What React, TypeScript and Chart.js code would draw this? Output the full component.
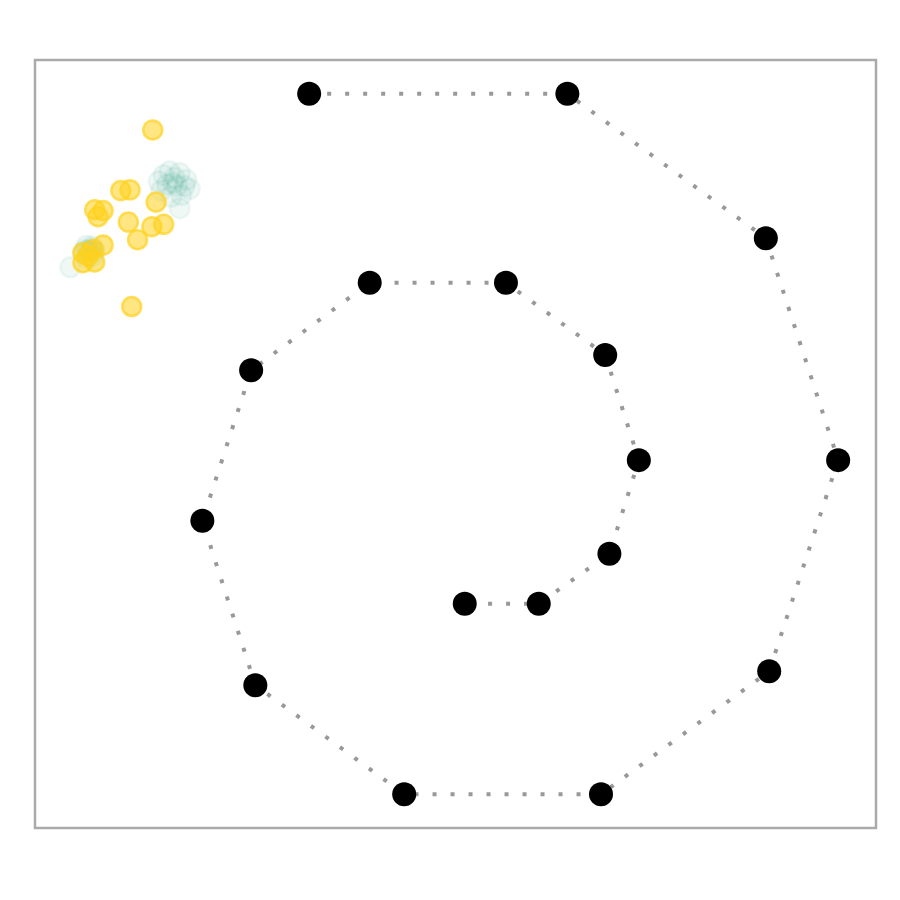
import React, { useEffect, useRef } from "react";
import { Chart, registerables } from "chart.js";

Chart.register(...registerables);

const spiralX = [3.26, 6.33, 8.69, 9.55, 8.73, 6.73, 4.39, 2.62, 1.99, 2.57, 3.98, 5.6, 6.78, 7.18, 6.83, 5.99, 5.11];
const spiralY = [9.56, 9.56, 7.68, 4.79, 2.04, 0.44, 0.44, 1.86, 4.0, 5.96, 7.1, 7.1, 6.16, 4.79, 3.57, 2.92, 2.92];

const yellowX = [1.4, 1.02, 1.13, 1.44, 0.71, 0.81, 0.75, 1.11, 1.39, 1.53, 1.22, 0.81, 0.69, 0.57, 0.57, 0.71, 0.63, 1.15];
const yellowY = [9.09, 8.3, 8.31, 8.15, 8.05, 8.04, 7.96, 7.89, 7.83, 7.86, 7.66, 7.59, 7.53, 7.49, 7.36, 7.37, 7.45, 6.79];

const tealX = [
  1.53, 1.6, 1.72, 1.8, 1.84, 1.74, 1.62, 1.5, 1.47, 1.64, 1.69, 1.57, 1.78, 1.66, 1.72, 0.42,
  0.61, 0.68, 0.71, 0.69, 0.62, 0.57, 0.64, 0.67, 0.6, 0.7,
];
const tealY = [
  8.5, 8.55, 8.53, 8.44, 8.32, 8.24, 8.22, 8.3, 8.42, 8.4, 8.36, 8.38, 8.36, 8.47, 8.07, 7.3,
  7.58, 7.57, 7.5, 7.44, 7.42, 7.49, 7.51, 7.53, 7.53, 7.54,
];

const toPts = (xs: number[], ys: number[]) => xs.map((x, i) => ({ x, y: ys[i] }));

const framePlugin = {
  id: "frame",
  beforeDatasetsDraw(chart: any) {
    const { ctx, chartArea } = chart;
    ctx.save();
    ctx.strokeStyle = "#aaaaaa";
    ctx.lineWidth = 2.5;
    ctx.strokeRect(chartArea.left, chartArea.top, chartArea.right - chartArea.left, chartArea.bottom - chartArea.top);
    ctx.restore();
  },
};

export default function App() {
  const ref = useRef<HTMLCanvasElement>(null);
  useEffect(() => {
    if (!ref.current) return;
    const chart = new Chart(ref.current, {
      type: "scatter",
      data: {
        datasets: [
          {
            data: toPts(spiralX, spiralY),
            showLine: true,
            borderColor: "#999999",
            borderWidth: 4,
            borderDash: [4, 14],
            pointRadius: 12,
            pointBackgroundColor: "#000000",
            pointBorderColor: "#000000",
            pointBorderWidth: 0,
            clip: false as any,
          },
          {
            data: toPts(yellowX, yellowY),
            pointRadius: 9.5,
            pointBackgroundColor: "rgba(255, 210, 30, 0.55)",
            pointBorderColor: "rgba(255, 210, 30, 0.7)",
            pointBorderWidth: 2.5,
            clip: false as any,
          },
          {
            data: toPts(tealX, tealY),
            pointRadius: 10,
            pointBackgroundColor: "rgba(40, 160, 125, 0.07)",
            pointBorderColor: "rgba(40, 160, 125, 0.07)",
            pointBorderWidth: 2.5,
            clip: false as any,
          },
        ],
      },
      options: {
        animation: false,
        responsive: false,
        devicePixelRatio: 1,
        layout: { padding: { left: 35, top: 60, right: 24, bottom: 72 } },
        scales: {
          x: { type: "linear", min: 0, max: 10, display: false },
          y: { type: "linear", min: 0, max: 10, display: false },
        },
        plugins: { legend: { display: false }, tooltip: { enabled: false } },
      },
      plugins: [framePlugin],
    });
    return () => chart.destroy();
  }, []);
  return (
    <div style={{ position: "absolute", left: 0, top: 0, width: 900, height: 900, background: "#fff" }}>
      <canvas ref={ref} width={900} height={900} />
    </div>
  );
}
